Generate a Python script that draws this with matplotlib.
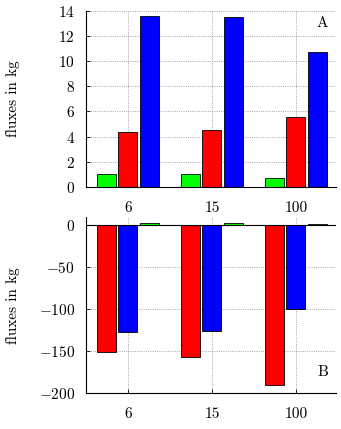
import numpy as np
import matplotlib
matplotlib.use('Agg')
import matplotlib.pyplot as plt

plt.rcParams['font.family'] = 'serif'
plt.rcParams['font.serif'] = ['cmr10']
plt.rcParams['mathtext.fontset'] = 'cm'
plt.rcParams['axes.formatter.use_mathtext'] = True
plt.rcParams['font.size'] = 11

categories = ['6', '15', '100']

# panel A
green_a = [1.05, 1.05, 0.71]
red_a = [4.33, 4.49, 5.52]
blue_a = [13.6, 13.47, 10.7]

# panel B
red_b = [-151, -157, -191]
blue_b = [-127, -126, -100]
green_b = [2.2, 2.2, 1.5]

x = np.arange(len(categories))
w = 0.226
step = 0.253

fig = plt.figure(figsize=(3.41, 4.29), dpi=100)
ax1 = fig.add_axes([0.252, 0.564, 0.733, 0.4115])
ax2 = fig.add_axes([0.252, 0.084, 0.733, 0.4095])

def style(ax):
    ax.spines['top'].set_visible(False)
    ax.spines['right'].set_visible(False)
    ax.grid(True, linestyle=':', color='#888888', linewidth=0.6)
    ax.set_axisbelow(True)
    ax.set_xticks(x)
    ax.set_xticklabels(categories)
    ax.set_xlim(-0.5, 2.476)
    ax.tick_params(axis='both', direction='in', length=3, width=0.6)
    ax.tick_params(axis='x', pad=10)
    ax.tick_params(axis='y', pad=8)
    ax.set_ylabel('fluxes in kg', fontsize=11)
    ax.yaxis.set_label_coords(-0.262, 0.5)

ax1.bar(x - step, green_a, w, color='#00ff00', edgecolor='black', linewidth=0.6)
ax1.bar(x, red_a, w, color='#ff0000', edgecolor='black', linewidth=0.6)
ax1.bar(x + step, blue_a, w, color='#0000ff', edgecolor='black', linewidth=0.6)
style(ax1)
ax1.set_ylim(0, 14)
ax1.set_yticks(np.arange(0, 15, 2))
ax1.text(0.97, 0.93, 'A', transform=ax1.transAxes, ha='right', va='center')

ax2.bar(x - step, red_b, w, color='#ff0000', edgecolor='black', linewidth=0.6)
ax2.bar(x, blue_b, w, color='#0000ff', edgecolor='black', linewidth=0.6)
ax2.bar(x + step, green_b, w, color='#00ff00', edgecolor='black', linewidth=0.6)
style(ax2)
ax2.axhline(0, color='black', linewidth=0.8)
ax2.set_ylim(-200, 9)
ax2.set_yticks([0, -50, -100, -150, -200])
ax2.text(0.97, 0.12, 'B', transform=ax2.transAxes, ha='right', va='center')

fig.savefig('out.png', dpi=100)
